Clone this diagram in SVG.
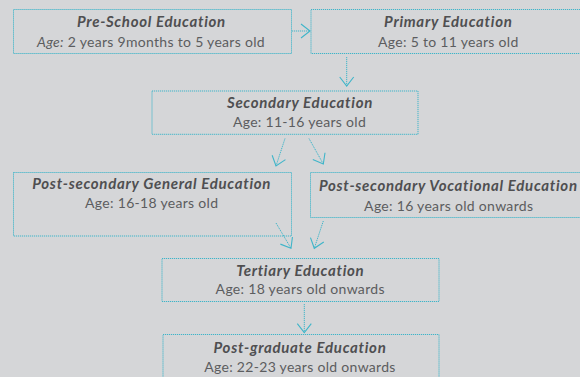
<svg xmlns="http://www.w3.org/2000/svg" width="580" height="377" viewBox="0 0 580 377">
<defs>
<style>
.box{fill:none;stroke:#3fb5c9;stroke-width:1;stroke-dasharray:1.2 0.8}
.con{fill:none;stroke:#3fb5c9;stroke-width:1;stroke-dasharray:1.2 0.8}
.t{font-family:Lato,"Liberation Sans",sans-serif;font-size:15px;font-weight:bold;font-style:italic;fill:#4f4f51;text-anchor:middle;letter-spacing:0.7px}
.s{font-family:Lato,"Liberation Sans",sans-serif;font-size:14px;fill:#5c5d5f;text-anchor:middle;letter-spacing:0.3px}
.i{font-style:italic}
</style>
<marker id="ah" markerUnits="userSpaceOnUse" markerWidth="12" markerHeight="18" viewBox="-10 -8 12 16" refX="0" refY="0" orient="auto">
<path d="M-9,-7 L0,0 L-9,7" fill="none" stroke="#3fb5c9" stroke-width="1.1"/>
</marker>
</defs>
<rect width="580" height="377" fill="#d5d6d8"/>
<g id="connectors">
<path class="con" d="M292,31 L310,31" marker-end="url(#ah)"/>
<path class="con" d="M346.7,57 L346.7,86" marker-end="url(#ah)"/>
<path class="con" d="M285,138.5 L276,166" marker-end="url(#ah)"/>
<path class="con" d="M309,138.5 L323.3,164" marker-end="url(#ah)"/>
<path class="con" d="M276,223 L291,248.3" marker-end="url(#ah)"/>
<path class="con" d="M323.3,221 L314.3,248.3" marker-end="url(#ah)"/>
<path class="con" d="M304.3,304 L304.3,332.7" marker-end="url(#ah)"/>
</g>
<g id="preschool">
<rect class="box" x="13.5" y="9.5" width="278" height="44"/>
<text class="t" x="151.5" y="26.5">Pre-School Education</text>
<text class="s" x="151" y="46.7"><tspan class="i">Age:</tspan> 2 years 9months to 5 years old</text>
</g>
<g id="primary">
<rect class="box" x="311" y="9.5" width="275" height="44"/>
<text class="t" x="448.3" y="26.5">Primary Education</text>
<text class="s" x="448.3" y="46.7">Age: 5 to 11 years old</text>
</g>
<g id="secondary">
<rect class="box" x="152" y="91" width="266" height="43.3"/>
<text class="t" x="300" y="107.7">Secondary Education</text>
<text class="s" x="299.5" y="126.7">Age: 11-16 years old</text>
</g>
<g id="general">
<rect class="box" x="13.5" y="172.5" width="278" height="63.5"/>
<text class="t" x="151.7" y="189.3">Post-secondary General Education</text>
<text class="s" x="151.7" y="208.3">Age: 16-18 years old</text>
</g>
<g id="vocational">
<rect class="box" x="310.5" y="172.5" width="276" height="45"/>
<text class="t" x="448.3" y="190.7">Post-secondary Vocational Education</text>
<text class="s" x="448.7" y="210.7">Age: 16 years old onwards</text>
</g>
<g id="tertiary">
<rect class="box" x="162" y="258.5" width="277" height="43"/>
<text class="t" x="300.3" y="275.7">Tertiary Education</text>
<text class="s" x="300.2" y="294.3">Age: 18 years old onwards</text>
</g>
<g id="postgrad">
<rect class="box" x="163" y="334.5" width="276" height="50"/>
<text class="t" x="300" y="352.7">Post-graduate Education</text>
<text class="s" x="300" y="371.7">Age: 22-23 years old onwards</text>
</g>
</svg>
